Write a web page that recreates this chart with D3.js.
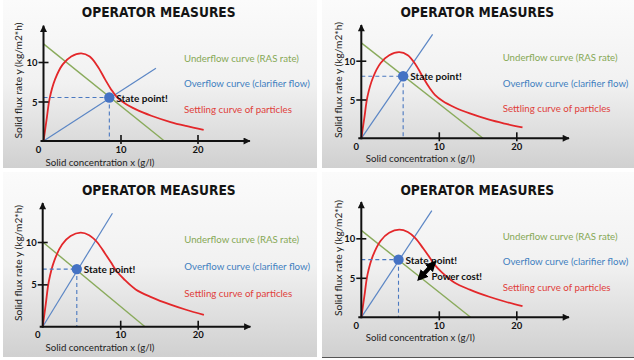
<!DOCTYPE html>
<html><head><meta charset="utf-8">
<script src="https://cdn.jsdelivr.net/npm/d3@7"></script>
<style>html,body{margin:0;padding:0;background:#fff;overflow:hidden;} svg{display:block;font-family:Lato,"Open Sans",sans-serif;}</style>
</head><body>
<svg id="c" width="634" height="360"></svg>
<script>
// ---------- data ----------
const titleText = "OPERATOR MEASURES";
const legendLabels = ["Underflow curve (RAS rate)", "Overflow curve (clarifier flow)", "Settling curve of particles"];
const xAxisTitle = "Solid concentration x (g/l)";
const yAxisTitle = "Solid flux rate y (kg/m2*h)";
const originLabel = "0";
const xTickValues = [10, 20];
const yTickValues = [5, 10];
const xAxisMax = 26.8;
const yAxisMax = 14.6;
const settlingX       = [0, 0.4, 0.8, 1.5, 2.5, 3.6, 4.9, 6.0, 7.0, 8.0, 8.8, 9.5, 10.5, 12.0, 14.0, 16.5, 18.5, 20.8];
const settlingYTop    = [0, 2.7, 5.4, 7.8, 9.7, 10.7, 11.1, 10.7, 9.5, 7.8, 6.5, 5.6, 4.8, 4.0, 3.2, 2.4, 1.9, 1.4];
const settlingYBottom = [0, 2.7, 5.4, 7.8, 9.7, 10.7, 11.1, 10.8, 10.0, 8.7, 7.6, 6.6, 5.6, 4.4, 3.5, 2.6, 2.0, 1.4];
const underflowY0 = [12.3, 12.3, 10.0, 11.0];
const underflowX0 = [15.7, 15.7, 13.2, 14.1];
const overflowEndX = [14.6, 9.2, 9.0, 9.1];
const overflowEndY = [9.2, 13.4, 13.4, 13.5];
const stateX = [8.55, 5.4, 4.4, 4.8];
const stateY = [5.5, 8.0, 6.8, 7.3];
const stateLabel = "State point!";
const powerCostX = [7.5, 9.4];
const powerCostY = [4.9, 6.9];
const powerCostLabel = "Power cost!";

// ---------- layout ----------
const layout = [
  {bx:3,   by:0,   bw:314, bh:168, ox:43.5,  oy:141,   xu:7.7,  yu:7.9,  tx:158.7, ty:12,    lx:184,   ly:[58,83,109],        yx:18,    yy:80.5, xx:100,   xy:161.5, curve:0},
  {bx:322, by:0,   bw:312, bh:168, ox:361.3, oy:138.3, xu:7.75, yu:7.76, tx:477.3, ty:12,    lx:502.7, ly:[57.3,82.7,108.3],  yx:337.7, yy:80,   xx:420.3, xy:158,   curve:0},
  {bx:3,   by:172, bw:314, bh:185, ox:42.7,  oy:326.7, xu:7.75, yu:8.47, tx:158.8, ty:189.5, lx:184.3, ly:[239.3,265.7,293.3],yx:18.3,  yy:263,  xx:100,   xy:347,   curve:1},
  {bx:322, by:172, bw:312, bh:185, ox:361.3, oy:317.3, xu:7.75, yu:7.9,  tx:477.3, ty:190,   lx:502.7, ly:[236,261,286.7],    yx:337.7, yy:258,  xx:420.3, xy:337,   curve:1}
];
const legendColors = ["#86a855", "#3f7fc0", "#e0403a"];
const legendWidths = [115, 126, 108];

const svg = d3.select("#c");
const defs = svg.append("defs");
const grad = defs.append("linearGradient").attr("id","bg").attr("x1",0).attr("y1",0).attr("x2",0).attr("y2",1);
grad.append("stop").attr("offset","0%").attr("stop-color","#fbfbfb");
grad.append("stop").attr("offset","50%").attr("stop-color","#f1f1f1");
grad.append("stop").attr("offset","100%").attr("stop-color","#d0d0d0");
defs.append("marker").attr("id","axArrow").attr("viewBox","0 0 10 10").attr("refX",9).attr("refY",5)
  .attr("markerUnits","userSpaceOnUse").attr("markerWidth",8).attr("markerHeight",7).attr("orient","auto")
  .append("path").attr("d","M0,0 L10,5 L0,10 z").attr("fill","#111");
defs.append("marker").attr("id","pcArrow").attr("viewBox","0 0 10 10").attr("refX",7).attr("refY",5)
  .attr("markerUnits","userSpaceOnUse").attr("markerWidth",11).attr("markerHeight",11).attr("orient","auto-start-reverse")
  .append("path").attr("d","M0,0 L10,5 L0,10 z").attr("fill","#000");

function fit(sel, w) {
  sel.each(function() {
    const len = this.getComputedTextLength();
    const fs = parseFloat(d3.select(this).style("font-size"));
    if (len > 0) d3.select(this).style("font-size", (fs * w / len) + "px");
  });
}

layout.forEach((L, i) => {
  const g = svg.append("g");
  g.append("rect").attr("x",L.bx).attr("y",L.by).attr("width",L.bw).attr("height",L.bh).attr("fill","url(#bg)");
  if (i === 3) g.append("line").attr("x1",L.bx).attr("x2",L.bx+L.bw).attr("y1",L.by+L.bh+0.5).attr("y2",L.by+L.bh+0.5).attr("stroke","#555").attr("stroke-width",1.2);

  const x = d3.scaleLinear().domain([0,20]).range([L.ox, L.ox + 20*L.xu]);
  const y = d3.scaleLinear().domain([0,10]).range([L.oy, L.oy - 10*L.yu]);

  // title
  g.append("text").attr("x",L.tx).attr("y",L.ty).attr("text-anchor","middle").attr("dominant-baseline","central")
    .style("font-family","'DejaVu Sans Condensed','DejaVu Sans',sans-serif").style("font-stretch","condensed")
    .style("font-weight","bold").style("font-size","14px").attr("fill","#141414").text(titleText).call(fit,154);

  // legend
  legendLabels.forEach((t, k) => {
    g.append("text").attr("x",L.lx).attr("y",L.ly[k]).attr("dominant-baseline","central")
      .style("font-size","12px").attr("fill",legendColors[k]).text(t).call(fit, legendWidths[k]);
  });

  // underflow line
  g.append("path").datum([[0, underflowY0[i]], [underflowX0[i], 0]])
    .attr("d", d3.line().x(d=>x(d[0])).y(d=>y(d[1])))
    .attr("fill","none").attr("stroke","#8aab5c").attr("stroke-width",1.4);
  // overflow line
  g.append("path").datum([[0,0],[overflowEndX[i], overflowEndY[i]]])
    .attr("d", d3.line().x(d=>x(d[0])).y(d=>y(d[1])))
    .attr("fill","none").attr("stroke","#5b86c5").attr("stroke-width",1.2);
  // settling curve
  const sy = L.curve === 0 ? settlingYTop : settlingYBottom;
  g.append("path").datum(settlingX.map((v,k)=>[v, sy[k]]))
    .attr("d", d3.line().x(d=>x(d[0])).y(d=>y(d[1])).curve(d3.curveCatmullRom.alpha(0.5)))
    .attr("fill","none").attr("stroke","#e3272a").attr("stroke-width",1.8);

  // dashed guides
  g.append("line").attr("x1",x(0)).attr("x2",x(stateX[i])).attr("y1",y(stateY[i])).attr("y2",y(stateY[i]))
    .attr("stroke","#4a78c0").attr("stroke-width",1.1).attr("stroke-dasharray","4,3");
  g.append("line").attr("x1",x(stateX[i])).attr("x2",x(stateX[i])).attr("y1",y(stateY[i])).attr("y2",y(0))
    .attr("stroke","#4a78c0").attr("stroke-width",1.1).attr("stroke-dasharray","4,3");

  // axes
  g.append("line").attr("x1",x(0)-3).attr("x2",x(xAxisMax)).attr("y1",y(0)).attr("y2",y(0))
    .attr("stroke","#111").attr("stroke-width",2).attr("marker-end","url(#axArrow)");
  g.append("line").attr("x1",x(0)).attr("x2",x(0)).attr("y1",y(0)+1).attr("y2",y(yAxisMax))
    .attr("stroke","#111").attr("stroke-width",2).attr("marker-end","url(#axArrow)");

  const xa = g.append("g").attr("transform",`translate(0,${y(0)})`)
    .call(d3.axisBottom(x).tickValues(xTickValues).tickSize(0).tickPadding(8).tickFormat(d3.format("d")));
  xa.select(".domain").remove();
  xa.selectAll(".tick line").attr("y1",-6).attr("y2",3).attr("stroke","#111").attr("stroke-width",1.6);
  xa.selectAll(".tick text").attr("y",8).attr("dy",null).attr("dominant-baseline","central")
    .style("font-family","Lato,sans-serif").style("font-weight","bold").style("font-size","9.5px").attr("fill","#111");

  const ya = g.append("g").attr("transform",`translate(${x(0)},0)`)
    .call(d3.axisLeft(y).tickValues(yTickValues).tickSize(0).tickPadding(6).tickFormat(d3.format("d")));
  ya.select(".domain").remove();
  ya.selectAll(".tick line").attr("x1",-5).attr("x2",5).attr("stroke","#111").attr("stroke-width",1.6);
  ya.selectAll(".tick text").attr("x",-6).attr("dy",null).attr("dominant-baseline","central")
    .style("font-family","Lato,sans-serif").style("font-weight","bold").style("font-size","9.5px").attr("fill","#111");

  g.append("text").attr("x",x(0)-5).attr("y",y(0)+8).attr("text-anchor","middle").attr("dominant-baseline","central")
    .style("font-weight","bold").style("font-size","9.5px").attr("fill","#111").text(originLabel);

  // axis titles
  g.append("text").attr("x",L.xx).attr("y",L.xy).attr("text-anchor","middle").attr("dominant-baseline","central")
    .style("font-size","12px").attr("fill","#222").text(xAxisTitle).call(fit,109);
  g.append("text").attr("transform",`translate(${L.yx},${L.yy}) rotate(-90)`).attr("text-anchor","middle").attr("dominant-baseline","central")
    .style("font-size","12px").attr("fill","#222").text(yAxisTitle).call(fit,116);

  // state point
  g.append("circle").attr("cx",x(stateX[i])).attr("cy",y(stateY[i])).attr("r",5.2).attr("fill","#4472c4");
  g.append("text").attr("x",x(stateX[i])+7).attr("y",y(stateY[i])).attr("dominant-baseline","central")
    .style("font-weight","bold").style("font-size","11px").attr("fill","#111").text(stateLabel).call(fit,51.7);

  if (i === 3) {
    g.append("line").attr("x1",x(powerCostX[0])).attr("y1",y(powerCostY[0])).attr("x2",x(powerCostX[1])).attr("y2",y(powerCostY[1]))
      .attr("stroke","#000").attr("stroke-width",4.2).attr("marker-start","url(#pcArrow)").attr("marker-end","url(#pcArrow)");
    g.append("text").attr("x",x(powerCostX[0])+12).attr("y",y(powerCostY[0])-3).attr("dominant-baseline","central")
      .style("font-weight","bold").style("font-size","11px").attr("fill","#111").text(powerCostLabel).call(fit,50.7);
  }
});
</script>
</body></html>
